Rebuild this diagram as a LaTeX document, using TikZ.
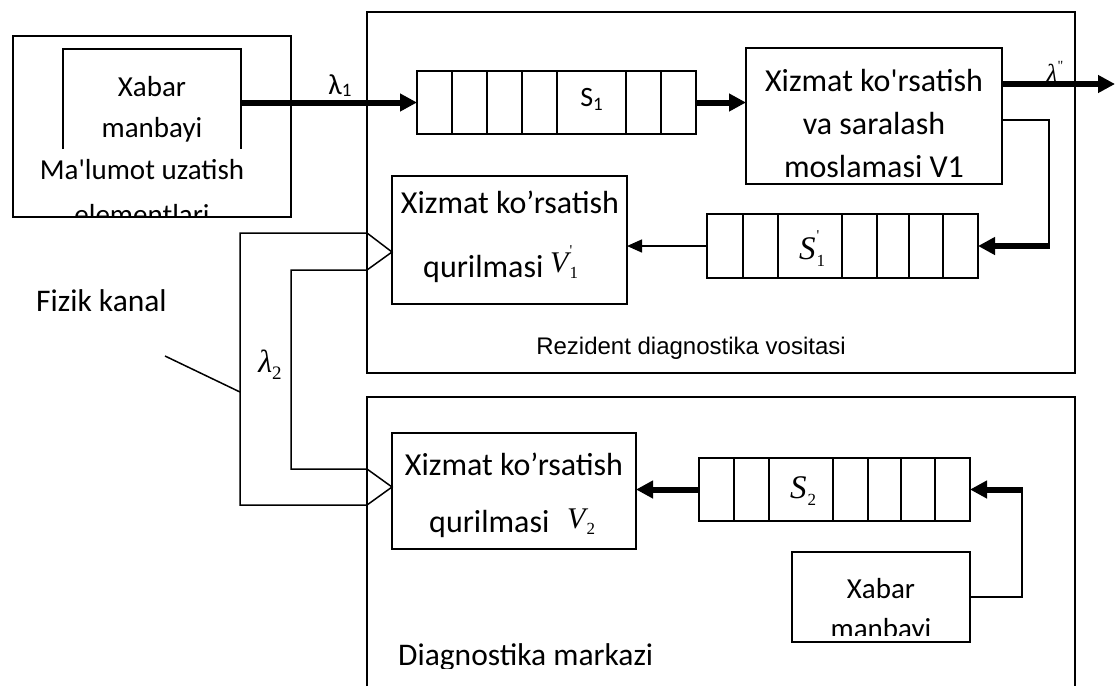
\documentclass[tikz,border=0pt]{standalone}
\usepackage{fontspec}
\setmainfont{Carlito}
\newfontfamily\arialfont{Liberation Sans}
\newfontfamily\timesfont{Liberation Serif}
\usetikzlibrary{arrows.meta}

% italic symbol with a superscript and a subscript stacked on the right
\newcommand\supsub[3]{{\timesfont\itshape #1}\kern1pt\rlap{\raisebox{0.55em}{\timesfont\fontsize{15}{15}\selectfont #2}}\raisebox{-0.22em}{\timesfont\fontsize{17}{17}\selectfont #3}}

\tikzset{
  frame/.style={draw, line width=1.5pt, rectangle, inner sep=0pt, outer sep=0pt},
  ghost/.style={rectangle, inner sep=0pt, outer sep=0pt},
  wire/.style={line width=1.5pt},
  fat/.style={line width=6pt, -{Triangle[length=17pt,width=17pt]}},
  slim/.style={line width=1.5pt, -{Triangle[length=15pt,width=13pt]}},
  txt/.style={inner sep=0pt, anchor=base},
  txtw/.style={inner sep=0pt, anchor=base west},
  big/.style={font=\fontsize{32}{38}\selectfont},
  mid/.style={font=\fontsize{29}{35}\selectfont},
  captxt/.style={font=\fontsize{31.5}{38}\selectfont},
}

\begin{document}
\begin{tikzpicture}[x=1pt, y=-1pt]
\useasboundingbox (0,0) rectangle (1115,686);

% ---------- transmitting elements ----------
\node[frame, minimum width=278pt, minimum height=181pt] (tx) at (152,126.5) {};
\node[ghost, minimum width=178pt, minimum height=100pt] (src) at (152,99) {};
\draw[wire] (src.south west) |- (src.north east) -- (src.south east);
\node[txt, mid] (srcA) at (152,96) {Xabar};
\node[txt, mid] (srcB) at (152,137) {manbayi};
\node[txt, mid] (txA) at (142,179) {Ma\textquotesingle lumot uzatish};
\begin{scope}
  \clip (0,0) rectangle (1115,216.5);
  \node[txt, mid] (txB) at (142,224) {elementlari};
\end{scope}

% ---------- resident diagnostic facility ----------
\node[frame, minimum width=708pt, minimum height=361pt] (rez) at (721,192.5) {};

% queue S1
\node[frame, minimum width=279pt, minimum height=63pt] (q1) at (556.5,102.5) {};
\foreach \x in {452,487,522,557,626,661}
  \draw[wire] (\x,71) -- (\x,134);
\node[txt, font=\fontsize{28}{34}\selectfont] (q1lbl) at (591.5,106) {S\raisebox{-0.15em}{\fontsize{19}{19}\selectfont 1}};

% service and sorting device V1
\node[frame, minimum width=256pt, minimum height=136pt] (v1) at (874,116) {};
\node[txt, big] (v1A) at (874,91) {Xizmat ko\textquotesingle rsatish};
\node[txt, big] (v1B) at (874,134) {va saralash};
\node[txt, big] (v1C) at (874,177) {moslamasi V1};

% queue S1'
\node[frame, minimum width=271pt, minimum height=64pt] (q1p) at (842.5,246) {};
\foreach \x in {743,778,842,877,909,943}
  \draw[wire] (\x,214) -- (\x,278);
\node[txt, font=\fontsize{33}{38}\selectfont] (q1plbl) at (812,259) {\supsub{S}{\textquotesingle}{1}};

% service device V1'
\node[frame, minimum width=235pt, minimum height=128pt] (v1p) at (509.5,240) {};
\node[txt, big] (v1pA) at (510,213) {Xizmat ko’rsatish};
\node[txtw, big] (v1pB) at (423,277) {qurilmasi};
\node[txtw, font=\fontsize{30}{34}\selectfont] (v1pS) at (550,272) {\supsub{V}{\textquotesingle}{1}};

\node[txt, font=\arialfont\fontsize{24}{28}\selectfont] (rezlbl) at (691,354) {Rezident diagnostika vositasi};

% ---------- diagnostic centre ----------
\node[ghost, minimum width=708pt, minimum height=289pt] (diag) at (721,541.5) {};
\draw[wire] (diag.south west) |- (diag.north east) -- (diag.south east);

% service device V2
\node[frame, minimum width=244pt, minimum height=116pt] (v2) at (514,491) {};
\node[txt, big] (v2A) at (514,475) {Xizmat ko’rsatish};
\node[txtw, big] (v2B) at (429,532) {qurilmasi};
\node[txtw, font=\fontsize{30}{34}\selectfont] (v2S) at (567,528) {\supsub{V}{}{2}};

% queue S2
\node[frame, minimum width=271pt, minimum height=63pt] (q2) at (834.5,489.5) {};
\foreach \x in {734,769,833,868,901,935}
  \draw[wire] (\x,458) -- (\x,521);
\node[txt, font=\fontsize{33}{38}\selectfont] (q2lbl) at (803,498) {\supsub{S}{}{2}};

% message source of the centre
\node[frame, minimum width=178pt, minimum height=90pt] (xb2) at (881,597) {};
\node[txt, mid] (xb2A) at (881,598) {Xabar};
\begin{scope}
  \clip (0,0) rectangle (1115,635);
  \node[txt, mid] (xb2B) at (881,638) {manbayi};
\end{scope}

\begin{scope}
  \clip (0,0) rectangle (1115,668);
  \node[txtw, captxt] (diaglbl) at (398,665) {Diagnostika markazi};
\end{scope}

% ---------- flows ----------
\draw[fat] (src.east |- q1.west) -- (q1.west);
\node[txt, mid] (lam1) at (340,94) {λ\raisebox{-0.1em}{\fontsize{19}{19}\selectfont 1}};

\draw[fat] (q1.east) -- (v1.west |- q1.east);

\coordinate (out) at (1115,84);
\draw[fat] (v1.east |- out) -- (out);
\node[txt, font=\timesfont\itshape\fontsize{26}{30}\selectfont] (lamout) at (1052,82) {λ\rlap{\raisebox{0.45em}{\upshape\fontsize{14}{14}\selectfont "}}};

% feedback from V1 into S1'
\coordinate (fbA) at (1049,120);
\coordinate (fbB) at (1049,246);
\draw[wire] (v1.east |- fbA) -- (fbA) -- (fbB);
\draw[fat] ([xshift=0.75pt]fbB) -- (q1p.east);

\draw[slim] (q1p.west) -- (v1p.east |- q1p.west);

% physical channel to both service devices
\coordinate (tipA) at (392,252);
\coordinate (tipB) at (392,487);
\draw[wire, line join=miter]
  (240,233) -- (367,233) -- (tipA) -- (367,270) -- (291,270) -- (291,469)
  -- (367,469) -- (tipB) -- (367,505) -- (240,505) -- cycle;
\coordinate (chan) at (240,392);
\coordinate (chanEnd) at (165,356);
\draw[wire] (chanEnd) -- (chan);
\node[txtw, captxt] (chanlbl) at (36,311) {Fizik kanal};
\node[txt, font=\timesfont\fontsize{32}{36}\selectfont] (lam2) at (270,372) {{\itshape λ}\raisebox{-0.22em}{\fontsize{19}{19}\selectfont 2}};

% centre flows
\draw[fat] (q2.west) -- (v2.east |- q2.west);
\coordinate (fcA) at (1022,597);
\coordinate (fcB) at (1022,489.5);
\draw[wire] (xb2.east) -- (fcA) -- (fcB);
\draw[fat] ([xshift=0.75pt]fcB) -- (q2.east);

\end{tikzpicture}
\end{document}
